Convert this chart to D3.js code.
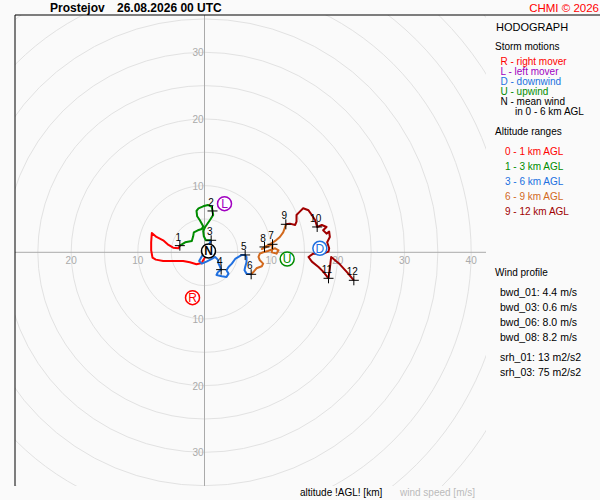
<!DOCTYPE html>
<html>
<head>
<meta charset="utf-8">
<script src="https://cdn.jsdelivr.net/npm/d3@7"></script>
<style>
body { margin: 0; background: #fafafa; }
svg { display: block; font-family: "Liberation Sans", Arial, sans-serif; }
</style>
</head>
<body>
<div class="chart_frame"></div>
<script>
var station = 'Prostejov',
    run_time = '26.08.2026 00 UTC',
    copyright = 'CHMI \u00a9 2026';

// hodograph, [u, v] in m/s, per altitude range
var seg_0_1 = [[0.7,1.1],[0.5,0.3],[0.1,-0.7],[-0.2,-1.2],[-0.4,-1.6],[-1.2,-1.8],[-2.2,-1.5],[-3.2,-1.3],
    [-5.2,-1.3],[-6.2,-1.3],[-7.3,-1.1],[-7.8,-0.8],[-8.0,0.3],[-8.0,1.5],[-7.9,2.9],[-7.2,2.3],
    [-6.2,1.8],[-5.4,1.1],[-4.7,0.7],[-3.9,0.6],[-3.7,1.0]];
var seg_1_3 = [[-3.7,1.0],[-2.9,1.5],[-1.9,1.7],[-1.7,2.4],[-1.6,3.0],[-1.0,3.3],[-0.4,3.5],[-0.2,3.9],
    [-0.7,4.8],[-1.1,5.4],[-1.2,6.2],[-0.9,6.6],[-0.2,6.9],[0.5,7.1],[1.1,6.8],[1.2,6.2],[1.3,5.6],
    [0.8,4.8],[0.1,3.8],[-0.2,3.2],[-0.1,2.4],[0.2,1.8],[1.0,1.8]];
var seg_3_6 = [[1.0,1.8],[0.4,0.6],[-0.4,-0.6],[-0.8,-1.3],[-0.4,-1.7],[0.3,-1.4],[1.1,-1.0],[1.6,-0.7],
    [2.0,-1.1],[2.1,-1.7],[2.3,-2.1],[2.5,-2.6],[2.0,-3.0],[1.8,-3.4],[2.6,-3.6],[3.3,-3.7],[3.6,-3.2],
    [3.3,-2.7],[3.6,-2.2],[4.1,-1.7],[4.6,-1.0],[5.1,-0.7],[5.6,-0.4],[6.1,-0.4],[6.3,-0.7],[6.3,-1.5],
    [6.1,-2.2],[6.0,-2.7],[6.3,-3.2],[7.0,-3.3]];
var seg_6_9 = [[7.0,-3.3],[7.3,-3.0],[7.8,-2.4],[8.6,-2.1],[8.8,-1.7],[8.3,-1.2],[8.1,-0.7],[8.3,-0.2],
    [8.8,0.0],[9.5,0.2],[10.6,0.6],[11.1,0.3],[10.8,-0.2],[10.1,0.0],[10.2,1.2],[9.5,0.9],[8.6,0.5],
    [9.0,0.8],[9.8,1.2],[10.6,1.7],[11.3,2.3],[11.8,3.0],[12.1,3.8],[12.2,4.2]];
var seg_9_12 = [[12.2,4.2],[12.8,4.3],[13.6,4.1],[13.8,4.6],[13.8,5.6],[14.3,6.1],[14.8,6.6],[15.6,6.3],
    [16.1,5.6],[16.6,4.8],[16.9,3.8],[17.6,4.1],[18.3,3.8],[17.8,3.3],[18.3,2.8],[18.7,3.1],[18.8,2.3],
    [18.4,1.5],[18.7,0.6],[18.6,0.1],[17.8,-0.2],[16.3,-0.2],[15.6,-0.7],[16.1,-1.4],[17.1,-2.2],
    [17.8,-2.9],[18.6,-3.9],[18.8,-2.4],[19.0,-0.7],[20.3,-1.8],[21.4,-3.0],[22.4,-4.2]];

// altitude marks 1..12 km
var km_labels = ['1','2','3','4','5','6','7','8','9','10','11','12'];
var km_u = [-3.7, 1.2, 1.0, 2.5, 6.1, 7.0, 10.2, 9.0, 12.2, 16.9, 18.6, 22.4];
var km_v = [ 1.0, 6.2, 1.8, -2.6, -0.4, -3.3, 1.2, 0.8, 4.2, 3.8, -3.9, -4.2];

// storm motions
var storm_names = ['R', 'L', 'D', 'U', 'N'];
var storm_u = [-1.8, 3.0, 17.3, 12.4, 0.6];
var storm_v = [-6.8, 7.3, 0.6, -1.0, 0.2];

var ring_speeds = [5, 10, 15, 20, 25, 30, 35, 40, 45, 50, 55, 60];
var ring_labels = [10, 20, 30, 40];

var storm_legend = ['R - right mover', 'L - left mover', 'D - downwind', 'U - upwind', 'N - mean wind'];
var alt_ranges = ['0 - 1 km AGL', '1 - 3 km AGL', '3 - 6 km AGL', '6 - 9 km AGL', '9 - 12 km AGL'];
var wind_profile = ['bwd_01: 4.4 m/s', 'bwd_03: 0.6 m/s', 'bwd_06: 8.0 m/s', 'bwd_08: 8.2 m/s'];
var helicity = ['srh_01: 13 m2/s2', 'srh_03: 75 m2/s2'];

// colours
var seg_colors = ['#ff0000', '#008c00', '#2070e0', '#d2691e', '#a00000'],
    storm_colors = {'R': '#ff0000', 'L': '#a000c0', 'D': '#2070e0', 'U': '#008c00', 'N': '#000000'},
    ring_color = '#e2e2e2', axis_color = '#aaaaaa';

// plot frame and wind scale
var frame = {'left': 15, 'top': 15, 'right': 486, 'bottom': 486},
    origin = {'x': 204.5, 'y': 252.3},
    px_per_ms = 6.667;

var x = d3.scaleLinear()
    .domain([(frame.left - origin.x) / px_per_ms, (frame.right - origin.x) / px_per_ms])
    .range([frame.left, frame.right]);
var y = d3.scaleLinear()
    .domain([(origin.y - frame.top) / px_per_ms, (origin.y - frame.bottom) / px_per_ms])
    .range([frame.top, frame.bottom]);

var svg = d3.select('.chart_frame').append('svg')
    .attr('width', 600)
    .attr('height', 500);

svg.append('rect').attr('width', 600).attr('height', 500).attr('fill', '#fafafa');

svg.append('clipPath').attr('id', 'plot_clip')
    .append('rect')
    .attr('x', frame.left).attr('y', frame.top)
    .attr('width', frame.right - frame.left)
    .attr('height', frame.bottom - frame.top);

var plot = svg.append('g').attr('clip-path', 'url(#plot_clip)');

// rings
plot.selectAll('circle.ring').data(ring_speeds).enter()
    .append('circle')
    .attr('class', 'ring')
    .attr('cx', x(0)).attr('cy', y(0))
    .attr('r', function(d) { return x(d) - x(0); })
    .attr('fill', 'none')
    .attr('stroke', ring_color)
    .attr('stroke-width', 1);

// axes
plot.append('line')
    .attr('x1', frame.left).attr('x2', frame.right)
    .attr('y1', y(0)).attr('y2', y(0))
    .attr('stroke', axis_color);
plot.append('line')
    .attr('x1', x(0)).attr('x2', x(0))
    .attr('y1', frame.top).attr('y2', frame.bottom)
    .attr('stroke', axis_color);

// ring labels on the four half axes, only those that fit inside the frame
var lab = plot.append('g')
    .attr('font-size', 10)
    .attr('fill', axis_color);
ring_labels.forEach(function(s) {
    if (x(-s) - 8 > frame.left)
        lab.append('text').attr('x', x(-s)).attr('y', y(0) + 12).attr('text-anchor', 'middle').text(s);
    if (x(s) + 8 < frame.right)
        lab.append('text').attr('x', x(s)).attr('y', y(0) + 12).attr('text-anchor', 'middle').text(s);
    if (y(s) - 6 > frame.top)
        lab.append('text').attr('x', x(0) - 1).attr('y', y(s) + 4).attr('text-anchor', 'end').text(s);
    if (y(-s) + 6 < frame.bottom)
        lab.append('text').attr('x', x(0) - 1).attr('y', y(-s) + 4).attr('text-anchor', 'end').text(s);
});

// hodograph
var line = d3.line()
    .x(function(d) { return x(d[0]); })
    .y(function(d) { return y(d[1]); });

[seg_0_1, seg_1_3, seg_3_6, seg_6_9, seg_9_12].forEach(function(seg, i) {
    plot.append('path')
        .attr('d', line(seg))
        .attr('fill', 'none')
        .attr('stroke', seg_colors[i])
        .attr('stroke-width', 2)
        .attr('stroke-linejoin', 'round');
});

// altitude marks
var marks = plot.append('g');
km_labels.forEach(function(k, i) {
    var cx = x(km_u[i]), cy = y(km_v[i]);
    marks.append('line').attr('x1', cx - 5).attr('x2', cx + 5).attr('y1', cy).attr('y2', cy).attr('stroke', '#000');
    marks.append('line').attr('x1', cx).attr('x2', cx).attr('y1', cy - 5).attr('y2', cy + 5).attr('stroke', '#000');
    marks.append('text')
        .attr('x', cx - 1.5).attr('y', cy - 5)
        .attr('text-anchor', 'middle')
        .attr('font-size', 10)
        .attr('fill', '#000')
        .text(k);
});

// storm motion markers
storm_names.forEach(function(n, i) {
    var g = plot.append('g')
        .attr('transform', 'translate(' + x(storm_u[i]) + ',' + y(storm_v[i]) + ')');
    g.append('circle')
        .attr('r', 7)
        .attr('fill', '#ffffff')
        .attr('stroke', storm_colors[n])
        .attr('stroke-width', 1.5);
    g.append('text')
        .attr('y', 4.5)
        .attr('text-anchor', 'middle')
        .attr('font-size', 12)
        .attr('font-weight', n == 'N' ? 'bold' : 'normal')
        .attr('fill', storm_colors[n])
        .text(n);
});

// frame border (left and top only)
svg.append('line')
    .attr('x1', frame.left).attr('x2', frame.left)
    .attr('y1', frame.top).attr('y2', frame.bottom)
    .attr('stroke', '#000');
svg.append('line')
    .attr('x1', frame.left).attr('x2', 600)
    .attr('y1', frame.top).attr('y2', frame.top)
    .attr('stroke', '#000');

// title
svg.append('text').attr('x', 50).attr('y', 12)
    .attr('font-size', 12).attr('font-weight', 'bold')
    .text(station);
svg.append('text').attr('x', 117).attr('y', 12)
    .attr('font-size', 12).attr('font-weight', 'bold')
    .text(run_time);
svg.append('text').attr('x', 599).attr('y', 12)
    .attr('text-anchor', 'end')
    .attr('font-size', 11.5).attr('fill', '#ff0000')
    .text(copyright);

// right panel
var side = svg.append('g').attr('font-size', 10);
side.append('text').attr('x', 496).attr('y', 31).attr('font-size', 11).text('HODOGRAPH');
side.append('text').attr('x', 495).attr('y', 50).text('Storm motions');
storm_legend.forEach(function(t, i) {
    side.append('text')
        .attr('x', 500.5).attr('y', 65 + i * 10)
        .attr('fill', storm_colors[storm_names[i]])
        .text(t);
});
side.append('text').attr('x', 515).attr('y', 115).text('in 0 - 6 km AGL');

side.append('text').attr('x', 495).attr('y', 135).text('Altitude ranges');
alt_ranges.forEach(function(t, i) {
    side.append('text')
        .attr('x', 505).attr('y', 155 + i * 15)
        .attr('fill', seg_colors[i])
        .text(t);
});

side.append('text').attr('x', 495).attr('y', 276).text('Wind profile');
wind_profile.forEach(function(t, i) {
    side.append('text').attr('x', 500).attr('y', 296 + i * 15).attr('font-size', 10.5).text(t);
});
helicity.forEach(function(t, i) {
    side.append('text').attr('x', 500).attr('y', 361 + i * 14.5).attr('font-size', 10.5).text(t);
});

// bottom captions
svg.append('text').attr('x', 300).attr('y', 495.5).attr('font-size', 10)
    .text('altitude !AGL! [km]');
svg.append('text').attr('x', 400).attr('y', 495.5).attr('font-size', 10)
    .attr('fill', '#bbbbbb')
    .text('wind speed [m/s]');
</script>
</body>
</html>
